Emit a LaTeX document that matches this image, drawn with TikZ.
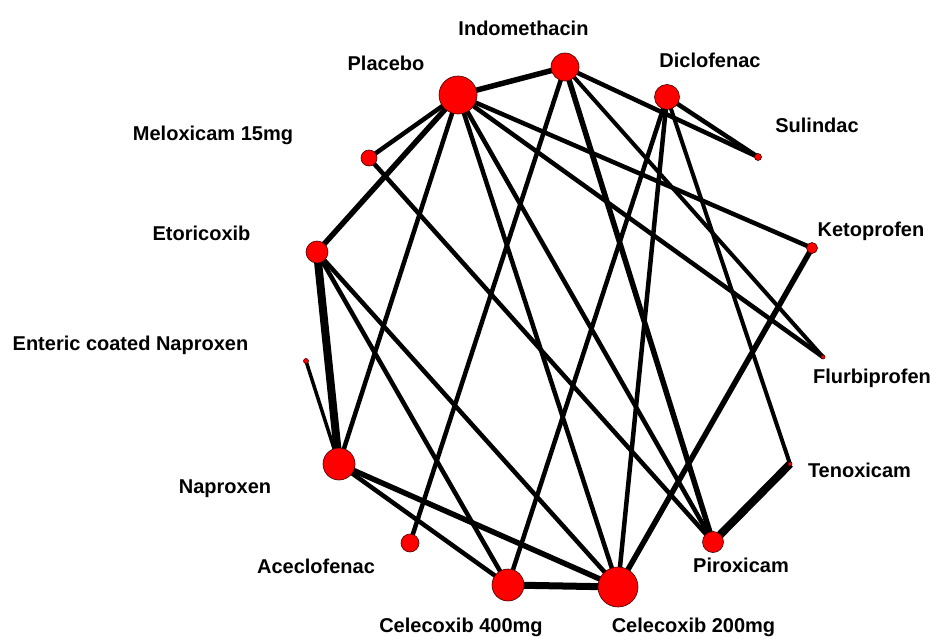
\documentclass[tikz,border=0pt]{standalone}
\usepackage{fontspec}
\setmainfont{Liberation Sans}
\usetikzlibrary{backgrounds}
\begin{document}
\begin{tikzpicture}[x=1pt,y=-1pt,
  drug/.style={circle,fill=red,draw=black!75!red,line width=0.6pt,inner sep=0pt,minimum size=#1},
  lbl/.style={anchor=base,font=\bfseries\fontsize{20}{24}\selectfont,inner sep=0pt,text=black},
  link/.style={line width=#1,draw=black},
]
\useasboundingbox (0,0) rectangle (930,637);
% drug nodes
\node[drug=38pt] (pla) at (458,95) {};
\node[drug=28pt] (ind) at (565,67) {};
\node[drug=25pt] (dic) at (667,97) {};
\node[drug=7pt]  (sul) at (758,157) {};
\node[drug=16pt] (mel) at (369,158) {};
\node[drug=11pt] (ket) at (812,248) {};
\node[drug=22pt] (eto) at (317,252) {};
\node[drug=5pt]  (ent) at (306,361) {};
\node[drug=4pt]  (flu) at (823,357) {};
\node[drug=32pt] (nap) at (339,464) {};
\node[drug=4pt]  (ten) at (790,464) {};
\node[drug=18pt] (ace) at (410,543) {};
\node[drug=21pt] (pir) at (713,542) {};
\node[drug=32pt] (c40) at (508,585) {};
\node[drug=40pt] (c20) at (618,587) {};
% labels
\node[lbl] (lind) at (523.5,35) {Indomethacin};
\node[lbl] (lpla) at (386,70) {Placebo};
\node[lbl] (ldic) at (710,67) {Diclofenac};
\node[lbl] (lsul) at (817,132) {Sulindac};
\node[lbl] (lmel) at (213,140) {Meloxicam 15mg};
\node[lbl] (leto) at (201.5,240) {Etoricoxib};
\node[lbl] (lket) at (871,236) {Ketoprofen};
\node[lbl] (lent) at (130.5,350) {Enteric coated Naproxen};
\node[lbl] (lflu) at (872,383) {Flurbiprofen};
\node[lbl] (lnap) at (225,493) {Naproxen};
\node[lbl] (lten) at (859.5,477) {Tenoxicam};
\node[lbl] (lace) at (316,573) {Aceclofenac};
\node[lbl] (lpir) at (741,572) {Piroxicam};
\node[lbl] (lc40) at (461,632) {Celecoxib 400mg};
\node[lbl] (lc20) at (693.5,632) {Celecoxib 200mg};
% connectors
\begin{scope}[on background layer]
\draw[link=5.5pt] (pla.center) -- (ind.center);
\draw[link=4.5pt] (pla.center) -- (mel.center);
\draw[link=5.5pt] (pla.center) -- (eto.center);
\draw[link=4.5pt] (pla.center) -- (nap.center);
\draw[link=4.5pt] (pla.center) -- (c20.center);
\draw[link=4.5pt] (pla.center) -- (pir.center);
\draw[link=4.5pt] (pla.center) -- (ket.center);
\draw[link=4.5pt] (pla.center) -- (flu.center);
\draw[link=4.5pt] (ind.center) -- (ace.center);
\draw[link=5.5pt] (ind.center) -- (pir.center);
\draw[link=4pt] (ind.center) -- (flu.center);
\draw[link=4.5pt] (ind.center) -- (sul.center);
\draw[link=4.5pt] (dic.center) -- (sul.center);
\draw[link=4.5pt] (dic.center) -- (c40.center);
\draw[link=4.5pt] (dic.center) -- (c20.center);
\draw[link=4pt] (dic.center) -- (ten.center);
\draw[link=4.5pt] (mel.center) -- (pir.center);
\draw[link=8pt] (eto.center) -- (nap.center);
\draw[link=4.5pt] (eto.center) -- (c40.center);
\draw[link=4.5pt] (eto.center) -- (c20.center);
\draw[link=3.5pt] (ent.center) -- (nap.center);
\draw[link=4.5pt] (nap.center) -- (c40.center);
\draw[link=5.5pt] (nap.center) -- (c20.center);
\draw[link=7pt] (c40.center) -- (c20.center);
\draw[link=5.5pt] (ket.center) -- (c20.center);
\draw[link=8pt] (ten.center) -- (pir.center);
\end{scope}
\end{tikzpicture}
\end{document}
